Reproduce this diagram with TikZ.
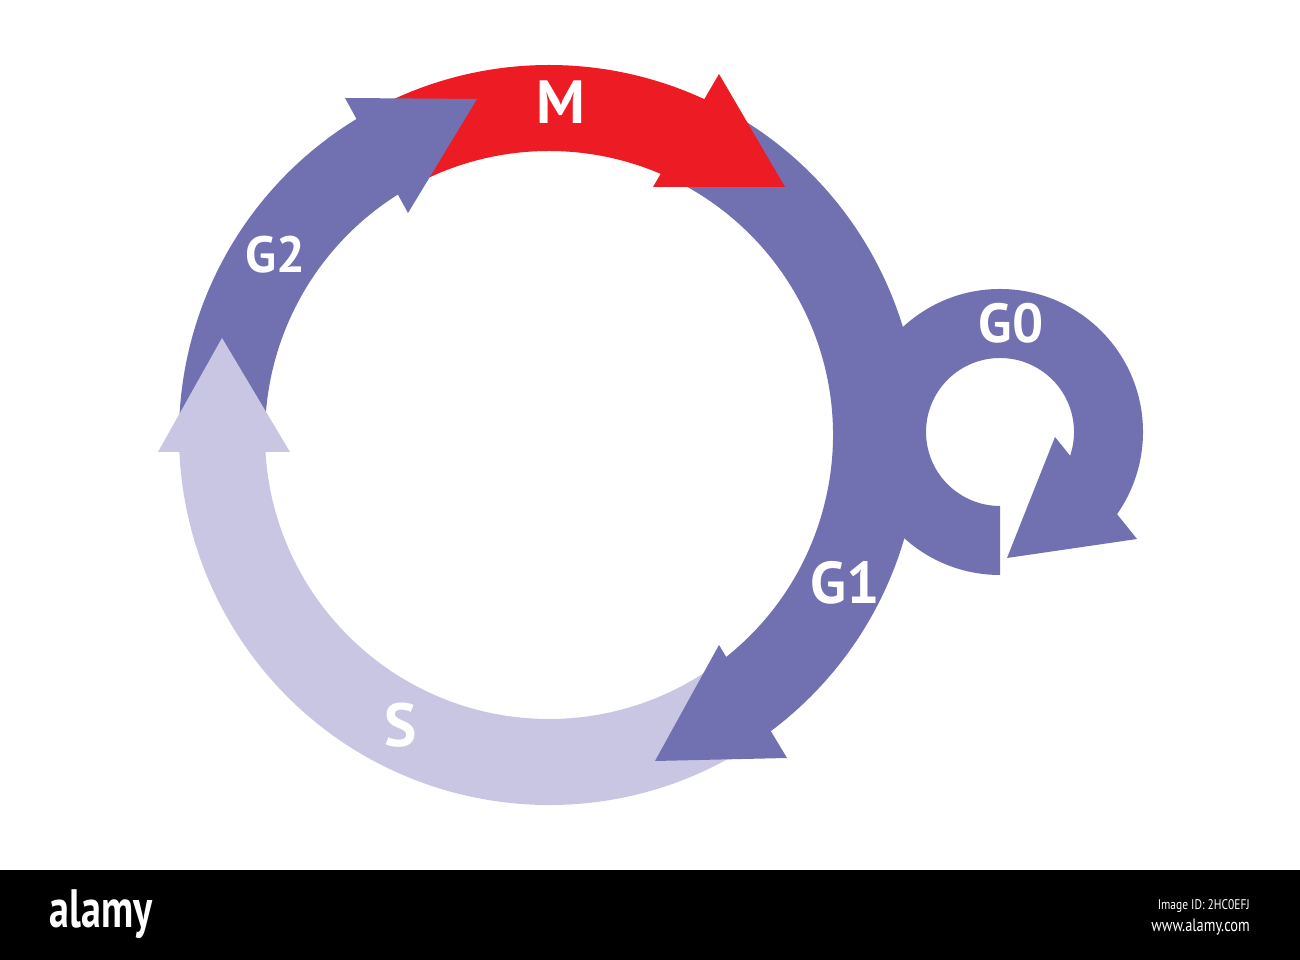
\documentclass[tikz,border=0pt]{standalone}
\usepackage{fontspec}
\setmainfont{PT Sans}
\usetikzlibrary{positioning}
\definecolor{phase}{HTML}{7170B1}
\definecolor{synth}{HTML}{C8C6E3}
\definecolor{mitosis}{HTML}{ED1C24}
% ring sector: centre, start, end, inner radius, outer radius, colour
\newcommand{\ringband}[6]{%
  \fill[#6,shift={(#1)}] (#2:#5) arc[start angle=#2, end angle=#3, radius=#5]
    -- (#3:#4) arc[start angle=#3, end angle=#2, radius=#4] -- cycle;}

\begin{document}
\begin{tikzpicture}[
  x=1pt, y=1pt,
  phaselabel/.style={text=white, inner sep=0pt,
    font=\bfseries\fontsize{#1}{#1}\selectfont},
  barlabel/.style={text=white, inner sep=0pt,
    font=\fontsize{#1}{#1}\selectfont}
]
\useasboundingbox (0,0) rectangle (1300,960);
\fill[white] (0,0) rectangle (1300,960);
\coordinate (cyc) at (549,525);
\coordinate (rest) at (1000,528);

% bands
\ringband{cyc}{-54}{-180}{284}{370}{synth}
\ringband{cyc}{181}{118}{284}{370}{phase}
\ringband{cyc}{118}{62}{284}{370}{mitosis}
\ringband{cyc}{64}{-56}{284}{370}{phase}
\ringband{rest}{270}{-40}{74}{143}{phase}

% heads
\fill[synth] (158,508) -- (290,508) -- (222,622) -- cycle;
\fill[phase] (345,862) -- (477,861) -- (408,747) -- cycle;
\fill[mitosis] (719,886) -- (785,773) -- (653,773) -- cycle;
\fill[phase] (719,315) -- (787,202) -- (655,199) -- cycle;
\fill[phase] (1055,523) -- (1137,421) -- (1007,402) -- cycle;

\node[phaselabel=61] (m) at (561,858) {M};
\node[phaselabel=59] (g1) at (845,377) {G1};
\node[phaselabel=51] (g2) at (275,705) {G2};
\node[phaselabel=55] (g0) at (1011,637) {G0};
\node[phaselabel=61] (s) at (401,235) {S};

% strip
\fill[black] (0,0) rectangle (1300,90);
\node[barlabel=54] (brand) at (101,46) {\scalebox{0.74}[1]{\bfseries alamy}};
\node[barlabel=14, anchor=east] (imgid) at (1250,54) {\scalebox{0.82}[1]{Image ID: 2HC0EFJ}};
\node[barlabel=18, below=6pt of imgid.south east, anchor=north east] (site) {\scalebox{0.8}[1]{www.alamy.com}};
\end{tikzpicture}
\end{document}
